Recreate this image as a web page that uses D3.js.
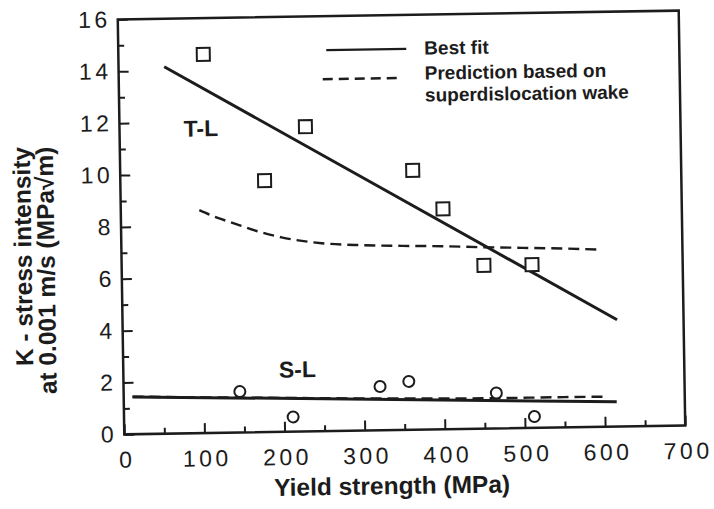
<!DOCTYPE html>
<html>
<head>
<meta charset="utf-8">
<script src="https://cdn.jsdelivr.net/npm/d3@7"></script>
<style>
  body { margin: 0; background: #fff; }
  svg { display: block; }
</style>
</head>
<body>
<div id="chart"></div>
<script>
// values
// T-L orientation (squares)
const tlYield = [106, 180, 232, 365, 402, 452, 512]
const tlK = [14.6, 9.7, 11.75, 10.0, 8.5, 6.3, 6.3]
// S-L orientation (circles)
const slYield = [145, 211, 320, 356, 465, 512]
const slK = [1.58, 0.57, 1.69, 1.87, 1.37, 0.44]

// best fit lines (end points)
const tlFitYield = [57, 617]
const tlFitK = [14.15, 4.12]
const slFitYield = [11, 615]
const slFitK = [1.44, 0.96]

// prediction based on superdislocation wake
const tlPredYield = [98, 120, 140, 170, 200, 250, 300, 350, 400, 450, 500, 550, 600]
const tlPredK = [8.6, 8.3, 8.08, 7.75, 7.5, 7.25, 7.15, 7.1, 7.06, 7.0, 6.95, 6.9, 6.83]
const slPredYield = [11, 100, 200, 300, 400, 470, 550, 603]
const slPredK = [1.45, 1.38, 1.31, 1.24, 1.19, 1.17, 1.17, 1.16]

// axis ticks
const xTicks = [0, 100, 200, 300, 400, 500, 600, 700]
const xMinor = [50, 150, 250, 350, 450, 550, 650]
const yTicks = [0, 2, 4, 6, 8, 10, 12, 14, 16]
const yMinor = [1, 3, 5, 7, 9, 11, 13, 15]

// setup the dimensions
const W = 714, H = 509
const frame = { left: 121, top: 15, width: 561, height: 415 }
const tilt = -0.9 // the scanned figure sits slightly rotated
const ink = "#1c1c1c"
const font = "'Liberation Sans', Arial, Helvetica, sans-serif"

const svg = d3.select("#chart")
  .append("svg")
    .attr("width", W)
    .attr("height", H)

const chart = svg.append("g")
    .attr("transform", `rotate(${tilt}, ${frame.left + frame.width / 2}, ${frame.top + frame.height / 2}) translate(${frame.left},${frame.top})`)

// scales
const x = d3.scaleLinear().domain([0, 700]).range([0, frame.width])
const y = d3.scaleLinear().domain([0, 16]).range([frame.height, 0])

// ticks point inwards, the box is drawn separately
function styleAxis(g) {
  g.select(".domain").remove()
  g.selectAll("line").attr("stroke", ink).attr("stroke-width", 2)
  g.selectAll("text")
    .attr("fill", ink)
    .style("font-family", font)
    .style("font-size", "23px")
    .style("letter-spacing", "3.5px")
}

// x axis
chart.append("g")
    .attr("transform", `translate(0,${frame.height})`)
    .call(d3.axisBottom(x).tickValues(xTicks).tickSize(-10).tickPadding(17))
    .call(styleAxis)
    .selectAll("text").attr("dx", "2px")

chart.append("g")
    .attr("transform", `translate(0,${frame.height})`)
    .call(d3.axisBottom(x).tickValues(xMinor).tickSize(-6).tickFormat(""))
    .call(styleAxis)

// y axis
chart.append("g")
    .call(d3.axisLeft(y).tickValues(yTicks).tickSize(-10).tickPadding(7))
    .call(styleAxis)

chart.append("g")
    .call(d3.axisLeft(y).tickValues(yMinor).tickSize(-6).tickFormat(""))
    .call(styleAxis)

// frame
chart.append("rect")
    .attr("width", frame.width)
    .attr("height", frame.height)
    .attr("fill", "none")
    .attr("stroke", ink)
    .attr("stroke-width", 2.5)

// lines
const line = d3.line()
    .x(d => x(d[0]))
    .y(d => y(d[1]))
const curve = d3.line()
    .curve(d3.curveMonotoneX)
    .x(d => x(d[0]))
    .y(d => y(d[1]))

function drawLine(xs, ys, gen, dashed) {
  chart.append("path")
      .datum(d3.zip(xs, ys))
      .attr("fill", "none")
      .attr("stroke", ink)
      .attr("stroke-width", dashed ? 2.4 : 3)
      .attr("stroke-dasharray", dashed ? "11,6" : null)
      .attr("d", gen)
}

drawLine(tlFitYield, tlFitK, line, false)
drawLine(slFitYield, slFitK, line, false)
drawLine(tlPredYield, tlPredK, curve, true)
drawLine(slPredYield, slPredK, curve, true)

// markers
chart.selectAll(".sq")
  .data(d3.zip(tlYield, tlK))
  .join("rect")
    .attr("class", "sq")
    .attr("x", d => x(d[0]) - 6.5)
    .attr("y", d => y(d[1]) - 6.5)
    .attr("width", 13)
    .attr("height", 13)
    .attr("fill", "#fff")
    .attr("stroke", ink)
    .attr("stroke-width", 2)

chart.selectAll(".ci")
  .data(d3.zip(slYield, slK))
  .join("circle")
    .attr("class", "ci")
    .attr("cx", d => x(d[0]))
    .attr("cy", d => y(d[1]))
    .attr("r", 5.5)
    .attr("fill", "#fff")
    .attr("stroke", ink)
    .attr("stroke-width", 2)

// series labels
chart.append("text")
    .attr("x", x(80)).attr("y", y(11.44))
    .attr("fill", ink)
    .style("font-family", font).style("font-weight", "bold").style("font-size", "23px")
    .text("T-L")
chart.append("text")
    .attr("x", x(194)).attr("y", y(2.09))
    .attr("fill", ink)
    .style("font-family", font).style("font-weight", "bold").style("font-size", "23px")
    .text("S-L")

// legend
const legend = chart.append("g")
legend.append("line")
    .attr("x1", 208).attr("x2", 288).attr("y1", 34).attr("y2", 34)
    .attr("stroke", ink).attr("stroke-width", 2.4)
legend.append("line")
    .attr("x1", 204).attr("x2", 282).attr("y1", 63).attr("y2", 63)
    .attr("stroke", ink).attr("stroke-width", 2.4).attr("stroke-dasharray", "10,6")
const legendText = [["Best fit", 40], ["Prediction based on", 65], ["superdislocation wake", 87]]
legend.selectAll("text")
  .data(legendText)
  .join("text")
    .attr("x", 306)
    .attr("y", d => d[1])
    .attr("fill", ink)
    .style("font-family", font).style("font-weight", "bold").style("font-size", "19px")
    .text(d => d[0])

// axis titles
chart.append("text")
    .attr("x", 267).attr("y", 479)
    .attr("text-anchor", "middle")
    .attr("fill", ink)
    .style("font-family", font).style("font-weight", "bold").style("font-size", "24.5px")
    .text("Yield strength (MPa)")

const yTitle = ["K - stress intensity", "at 0.001 m/s (MPa\u221Am)"]
chart.selectAll(".ytitle")
  .data(yTitle)
  .join("text")
    .attr("class", "ytitle")
    .attr("transform", (d, i) => `translate(${-90 + i * 23},126) rotate(-90)`)
    .attr("text-anchor", "end")
    .attr("fill", ink)
    .style("font-family", font).style("font-weight", "bold").style("font-size", "24.5px")
    .text(d => d)
</script>
</body>
</html>
